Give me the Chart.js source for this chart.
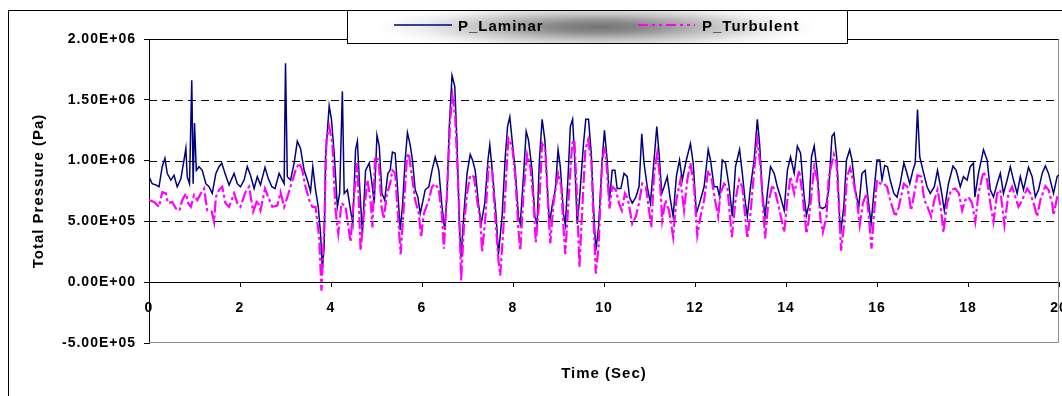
<!DOCTYPE html>
<html>
<head>
<meta charset="utf-8">
<script src="https://cdn.jsdelivr.net/npm/chart.js@4.4.1/dist/chart.umd.min.js"></script>
<style>
  html, body { margin: 0; padding: 0; background: #fff; overflow: hidden; }
  #wrap { position: relative; width: 1062px; height: 396px; overflow: hidden; }
  #chart { position: absolute; left: 0; top: 0; }
  #frame { position: absolute; left: 8px; top: 10px; width: 1200px; height: 600px; border: 1px solid #000; pointer-events: none; }
  #legend {
    position: absolute; left: 347px; top: 10px; width: 501px; height: 34px; box-sizing: border-box;
    border: 1px solid #000;
    background: radial-gradient(ellipse 44% 75% at 50% 50%, #747474 0%, #8a8a8a 22%, #c2c2c2 52%, #eeeeee 80%, #ffffff 100%);
    font-family: "Liberation Sans", Arial, sans-serif; font-weight: bold; font-size: 15px; letter-spacing: 1px; color: #000;
  }
  #legend .lbl { position: absolute; top: 7px; line-height: 15px; white-space: nowrap; }
  #legend svg { position: absolute; top: 12px; }
</style>
</head>
<body>
<div id="wrap">
  <canvas id="chart" width="1062" height="396"></canvas>
  <div id="frame"></div>
  <div id="legend">
    <svg style="left:46px" width="58" height="4"><line x1="0" y1="2" x2="58" y2="2" stroke="#000080" stroke-width="1.5"/></svg>
    <span class="lbl" style="left:110px">P_Laminar</span>
    <svg style="left:290px" width="57" height="4"><line x1="0" y1="2" x2="57" y2="2" stroke="#ff00ff" stroke-width="2" stroke-dasharray="10 4 3 4 3 4"/></svg>
    <span class="lbl" style="left:354px">P_Turbulent</span>
  </div>
</div>
<script>
// pressure values are read in units of 1e5 Pa
const PA = 1e5;

const lamT = [0.00,0.07,0.15,0.22,0.29,0.35,0.40,0.48,0.55,0.62,0.70,0.77,0.81,0.84,0.89,0.94,0.97,1.00,1.04,1.10,
  1.17,1.25,1.32,1.39,1.47,1.54,1.60,1.67,1.76,1.87,1.94,2.01,2.09,2.16,2.23,2.31,2.38,2.45,2.55,2.62,
  2.70,2.77,2.86,2.93,2.97,3.00,3.04,3.11,3.19,3.26,3.33,3.41,3.48,3.55,3.60,3.66,3.72,3.77,3.81,3.85,
  3.88,3.96,4.01,4.07,4.14,4.19,4.25,4.29,4.36,4.43,4.48,4.54,4.58,4.63,4.69,4.76,4.84,4.91,4.95,5.01,
  5.06,5.12,5.18,5.25,5.30,5.35,5.41,5.47,5.52,5.57,5.63,5.68,5.74,5.79,5.85,5.91,5.96,6.01,6.07,6.15,
  6.22,6.29,6.37,6.44,6.50,6.55,6.60,6.66,6.72,6.77,6.82,6.86,6.92,6.99,7.06,7.11,7.17,7.24,7.30,7.38,
  7.45,7.49,7.55,7.63,7.68,7.76,7.83,7.88,7.93,7.98,8.05,8.12,8.16,8.23,8.29,8.34,8.42,8.48,8.53,8.58,
  8.64,8.70,8.75,8.80,8.87,8.93,8.99,9.04,9.11,9.15,9.21,9.26,9.31,9.35,9.41,9.46,9.55,9.60,9.66,9.72,
  9.77,9.82,9.88,9.96,10.01,10.07,10.12,10.18,10.24,10.29,10.37,10.44,10.51,10.56,10.62,10.70,10.77,10.83,10.88,10.95,
  11.02,11.10,11.16,11.21,11.27,11.32,11.39,11.45,11.52,11.59,11.66,11.72,11.81,11.90,11.96,12.03,12.10,12.20,12.29,12.34,
  12.42,12.49,12.54,12.60,12.67,12.75,12.82,12.89,12.98,13.04,13.10,13.15,13.22,13.30,13.37,13.42,13.48,13.54,13.59,13.66,
  13.74,13.81,13.88,13.96,14.03,14.10,14.18,14.25,14.32,14.40,14.45,14.51,14.56,14.62,14.69,14.74,14.80,14.87,14.94,15.01,
  15.06,15.12,15.18,15.21,15.27,15.33,15.40,15.45,15.52,15.60,15.67,15.74,15.79,15.87,15.93,16.00,16.06,16.11,16.17,16.23,
  16.29,16.37,16.44,16.51,16.59,16.64,16.72,16.79,16.84,16.89,16.94,17.01,17.10,17.17,17.26,17.33,17.41,17.48,17.57,17.67,
  17.74,17.83,17.90,17.98,18.05,18.12,18.15,18.23,18.34,18.42,18.49,18.56,18.64,18.71,18.78,18.86,18.93,19.00,19.08,19.15,
  19.22,19.33,19.41,19.48,19.55,19.63,19.70,19.77,19.88,19.96,20.00];
const lamP = [8.68,8.1,8.0,7.85,9.5,10.2,8.95,8.4,8.8,7.85,8.5,10.05,11.0,8.68,8.1,16.6,8.1,13.1,9.2,9.5,
  9.2,8.1,7.85,7.3,8.95,9.5,9.8,8.95,8.0,8.95,8.1,7.85,8.4,9.5,8.8,7.7,8.68,8.0,9.45,8.54,
  7.85,7.7,8.95,8.4,8.1,18.0,8.68,8.4,9.8,11.6,11.0,9.2,8.4,7.45,9.5,7.6,6.2,4.0,1.1,2.9,
  10.3,14.5,13.4,10.6,6.2,7.3,15.7,7.3,7.6,5.9,4.8,10.9,11.6,7.85,4.0,9.2,9.8,7.85,6.5,12.1,
  11.2,7.3,6.75,8.95,9.2,10.7,10.6,7.3,4.3,6.2,10.05,12.3,11.3,10.05,7.6,7.0,5.65,6.5,7.6,7.85,
  9.2,10.3,9.2,6.2,4.3,7.3,12.8,17.0,16.1,11.4,4.8,2.07,5.65,8.95,10.5,10.05,9.2,6.5,4.8,6.5,
  10.05,11.3,8.95,5.4,2.3,5.4,10.3,12.8,13.6,11.7,9.2,5.4,4.8,8.7,12.4,11.7,9.2,5.4,4.8,10.05,
  13.4,11.7,8.1,4.8,6.5,7.6,10.9,9.5,5.65,4.7,8.7,12.8,13.4,10.6,4.8,6.75,11.4,13.4,13.4,10.6,
  6.2,2.6,4.5,10.05,12.5,10.05,6.75,9.2,9.2,7.7,7.7,8.95,8.68,7.0,6.5,7.0,7.85,12.2,9.8,7.85,
  6.5,10.05,12.8,10.6,7.3,7.85,8.68,7.0,5.4,8.68,10.05,8.4,10.05,11.4,9.8,5.65,6.5,7.85,10.9,10.05,
  7.85,7.85,7.0,10.05,9.8,7.85,5.4,9.5,10.9,8.95,6.75,5.4,7.85,10.05,13.4,11.4,7.3,5.4,7.3,9.5,
  8.95,7.85,7.0,5.9,9.2,10.3,8.95,11.2,10.6,7.0,5.5,6.5,10.3,11.2,8.95,6.2,6.06,6.2,7.6,12.0,
  12.25,10.05,5.1,4.3,6.2,10.05,10.9,10.05,7.6,6.2,8.95,9.2,7.3,4.8,7.3,10.05,10.05,8.4,9.6,9.5,
  8.4,7.3,7.0,8.1,9.8,9.2,8.1,9.2,9.8,14.2,10.3,9.2,7.85,7.3,7.85,9.2,7.6,5.9,8.1,9.56,
  9.2,7.85,8.68,8.4,9.5,9.8,7.0,8.95,10.9,10.05,7.6,7.0,8.1,8.95,7.3,8.4,9.5,8.4,7.3,8.68,
  7.6,9.45,8.68,7.0,7.6,8.95,9.56,8.95,7.3,8.7,8.8];

const turbT = [0.00,0.11,0.22,0.29,0.37,0.42,0.51,0.59,0.67,0.73,0.81,0.86,0.92,0.99,1.06,1.14,1.21,1.28,1.38,1.43,
  1.47,1.54,1.61,1.68,1.76,1.87,1.94,2.01,2.12,2.20,2.29,2.38,2.45,2.55,2.62,2.71,2.82,2.89,2.97,3.04,
  3.11,3.22,3.30,3.37,3.44,3.52,3.59,3.66,3.74,3.79,3.85,3.90,3.96,4.03,4.10,4.16,4.23,4.32,4.43,4.51,
  4.58,4.65,4.73,4.80,4.87,4.91,4.97,5.05,5.11,5.16,5.23,5.30,5.35,5.41,5.49,5.53,5.60,5.67,5.71,5.78,
  5.85,5.93,5.98,6.04,6.15,6.22,6.29,6.37,6.44,6.48,6.55,6.62,6.67,6.73,6.81,6.86,6.92,6.99,7.06,7.14,
  7.21,7.28,7.32,7.39,7.46,7.54,7.61,7.68,7.72,7.79,7.87,7.90,7.98,8.05,8.12,8.16,8.23,8.31,8.38,8.45,
  8.50,8.58,8.64,8.71,8.77,8.82,8.89,8.99,9.06,9.11,9.15,9.22,9.30,9.35,9.41,9.46,9.52,9.59,9.65,9.72,
  9.77,9.82,9.88,9.96,10.01,10.04,10.12,10.18,10.26,10.33,10.39,10.46,10.53,10.62,10.70,10.77,10.84,10.92,10.99,11.04,
  11.10,11.17,11.22,11.28,11.35,11.43,11.52,11.59,11.68,11.76,11.83,11.90,11.98,12.05,12.12,12.20,12.29,12.37,12.44,12.51,
  12.56,12.64,12.71,12.81,12.89,12.97,13.04,13.15,13.22,13.30,13.37,13.44,13.54,13.61,13.70,13.77,13.86,13.96,14.03,14.10,
  14.18,14.29,14.36,14.45,14.50,14.62,14.69,14.76,14.81,14.89,14.94,15.05,15.11,15.16,15.21,15.27,15.34,15.41,15.49,15.56,
  15.62,15.69,15.77,15.82,15.88,15.94,16.00,16.07,16.15,16.22,16.29,16.40,16.48,16.59,16.67,16.75,16.82,16.89,16.97,17.04,
  17.11,17.19,17.26,17.33,17.41,17.46,17.54,17.63,17.72,17.80,17.87,17.94,18.01,18.09,18.16,18.23,18.34,18.42,18.49,18.56,
  18.64,18.71,18.80,18.89,18.97,19.04,19.11,19.19,19.30,19.37,19.44,19.52,19.59,19.70,19.77,19.85,19.88,19.96,20.00];
const turbP = [6.75,6.6,6.2,7.4,7.3,6.5,6.6,6.06,5.9,6.75,7.3,6.5,6.2,7.16,6.75,7.3,7.7,5.9,5.8,4.96,
  7.0,7.6,7.85,6.5,6.2,7.3,6.5,6.2,7.4,7.85,5.8,6.75,5.9,7.7,7.0,6.2,6.3,7.4,6.2,7.0,
  7.85,9.2,9.8,9.2,7.85,6.75,6.2,6.2,3.7,-0.7,4.5,11.7,12.8,11.4,5.9,4.0,6.5,6.2,3.3,7.3,
  9.8,2.6,5.9,8.4,6.75,4.5,10.3,10.05,6.2,5.2,7.3,8.1,9.2,8.95,4.5,2.3,6.2,10.3,10.6,8.68,
  6.75,5.65,3.7,5.65,6.75,7.85,8.1,7.6,5.4,2.75,7.3,13.4,15.3,13.6,6.75,0.14,4.5,7.3,8.8,8.68,
  6.75,5.1,2.5,5.1,9.5,9.2,5.4,1.8,0.55,4.5,10.05,11.8,11.2,8.68,4.3,2.6,7.3,10.5,9.5,6.75,
  3.3,6.75,11.4,10.9,6.5,3.2,6.5,8.95,7.85,4.5,2.3,6.75,11.4,11.7,6.75,1.24,5.9,10.9,11.7,10.05,
  5.1,0.7,2.9,10.05,10.9,10.6,6.06,7.85,7.6,6.5,5.9,7.3,6.75,4.8,5.4,6.5,8.1,7.85,5.9,4.5,
  8.95,10.6,8.95,5.1,6.75,5.9,3.7,6.75,8.4,5.9,8.4,9.8,7.85,3.86,5.4,6.75,9.2,8.4,6.75,5.4,
  7.3,8.1,7.85,3.7,6.75,8.4,7.85,3.6,5.65,9.2,11.7,9.5,3.6,6.5,8.0,7.3,5.9,4.1,6.75,8.7,
  7.3,9.2,7.3,4.0,5.1,9.5,8.4,5.1,4.1,5.4,8.68,10.5,9.8,6.5,2.6,4.5,8.68,9.4,8.1,6.75,
  4.7,6.5,7.3,5.4,2.75,5.9,8.4,8.1,8.1,7.85,6.75,5.4,6.2,8.1,7.85,5.9,7.3,8.8,8.68,6.75,
  6.2,5.4,6.75,7.6,5.9,4.1,6.5,7.6,7.7,7.3,5.9,6.75,7.0,6.5,4.96,7.3,9.1,8.4,6.5,4.96,
  7.3,7.6,4.7,7.3,7.85,7.0,6.2,6.75,7.7,7.3,6.5,5.4,6.75,7.9,7.6,6.5,5.5,7.0,7.2];

const xTicks = [0, 2, 4, 6, 8, 10, 12, 14, 16, 18, 20];
const yTicks = [-5e5, 0, 5e5, 1e6, 1.5e6, 2e6];
const dashedGrid = [5e5, 1e6, 1.5e6];

function sci(v) {
  if (v === 0) return '0.00E+00';
  const e = Math.floor(Math.log10(Math.abs(v)) + 1e-9);
  const m = v / Math.pow(10, e);
  return m.toFixed(2) + 'E' + (e < 0 ? '-' : '+') + String(Math.abs(e)).padStart(2, '0');
}

const spacing = {
  id: 'spacing',
  beforeLayout(chart) { chart.ctx.letterSpacing = '1px'; },
  beforeDraw(chart) { chart.ctx.letterSpacing = '1px'; }
};

const plotFrame = {
  id: 'plotFrame',
  beforeDatasetsDraw(chart) {
    const { ctx, chartArea: a, scales: { y } } = chart;
    ctx.save();
    ctx.lineWidth = 1;
    ctx.strokeStyle = '#000';
    ctx.setLineDash([8, 5]);
    dashedGrid.forEach(v => {
      const py = Math.round(y.getPixelForValue(v)) + 0.5;
      ctx.beginPath(); ctx.moveTo(a.left, py); ctx.lineTo(a.right, py); ctx.stroke();
    });
    ctx.setLineDash([]);
    const top = Math.round(y.getPixelForValue(2e6)) + 0.5;
    ctx.beginPath(); ctx.moveTo(a.left, top); ctx.lineTo(a.right, top); ctx.stroke();
    ctx.strokeStyle = '#8c8c8c';
    const bot = Math.round(y.getPixelForValue(-5e5)) - 0.5;
    ctx.beginPath(); ctx.moveTo(a.left, bot); ctx.lineTo(a.right - 0.5, bot); ctx.lineTo(a.right - 0.5, top); ctx.stroke();
    ctx.restore();
  }
};

const FONT = '"Liberation Sans", Arial, sans-serif';
Chart.defaults.font.family = FONT;
Chart.defaults.font.weight = 'bold';
Chart.defaults.color = '#000';

new Chart(document.getElementById('chart'), {
  type: 'line',
  data: {
    datasets: [{
      label: 'P_Laminar',
      data: lamT.map((t, i) => ({ x: t, y: lamP[i] * PA })),
      borderColor: '#000080',
      borderWidth: 1.5,
      pointRadius: 0,
      tension: 0,
      order: 1
    }, {
      label: 'P_Turbulent',
      data: turbT.map((t, i) => ({ x: t, y: turbP[i] * PA })),
      borderColor: '#ff00ff',
      borderWidth: 2.2,
      borderDash: [12, 3, 3, 3],
      pointRadius: 0,
      tension: 0,
      order: 0
    }]
  },
  options: {
    responsive: false,
    animation: false,
    layout: { padding: { top: 39, right: 3, left: 0, bottom: 0 } },
    plugins: { legend: { display: false }, tooltip: { enabled: false } },
    scales: {
      x: {
        type: 'linear', axis: 'x', min: 0, max: 20, position: { y: 0 },
        afterBuildTicks: s => { s.ticks = xTicks.map(v => ({ value: v })); },
        afterFit: s => { s.paddingLeft = 0; s.paddingRight = 0; },
        grid: { drawOnChartArea: false, drawTicks: true, tickLength: 4, color: '#000' },
        border: { display: true, color: '#000', width: 1 },
        ticks: { padding: 14, maxRotation: 0, autoSkip: false, color: '#000', font: { size: 14, weight: 'bold' }, callback: v => String(v) }
      },
      xt: {
        type: 'linear', axis: 'x', min: 0, max: 20, position: 'bottom',
        grid: { display: false }, border: { display: false }, ticks: { display: false },
        title: { display: true, text: 'Time (Sec)', color: '#000', font: { size: 15, weight: 'bold' }, padding: { top: 0, bottom: 13 } },
        afterFit: s => { s.height = 53; s.paddingLeft = 0; s.paddingRight = 0; }
      },
      y: {
        type: 'linear', min: -5e5, max: 2e6, position: 'left',
        afterBuildTicks: s => { s.ticks = yTicks.map(v => ({ value: v })); },
        afterFit: s => { s.width = 149; s.paddingTop = 0; s.paddingBottom = 0; },
        grid: { drawOnChartArea: false, drawTicks: true, tickLength: 5, color: '#000' },
        border: { display: true, color: '#000', width: 1 },
        ticks: { padding: 8, color: '#000', font: { size: 14, weight: 'bold' }, callback: v => sci(v) },
        title: { display: true, text: 'Total Pressure (Pa)', color: '#000', font: { size: 15, weight: 'bold' }, padding: { top: 30, bottom: 0 } }
      }
    }
  },
  plugins: [spacing, plotFrame]
});
</script>
</body>
</html>
